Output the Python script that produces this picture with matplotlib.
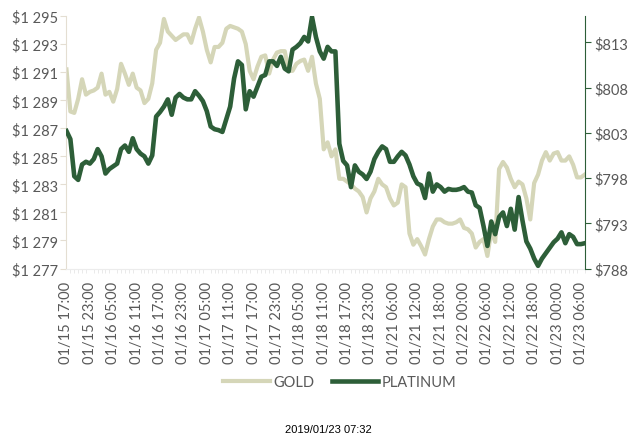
import matplotlib.pyplot as plt
import numpy as np
from matplotlib.ticker import FuncFormatter

# hourly quotes, 01/15 17:00 -> 01/23 07:00 (weekend removed)
gold = [1291.2, 1288.2, 1288.1, 1289.1, 1290.5, 1289.4, 1289.6, 1289.7, 1289.9, 1290.9,
        1289.4, 1289.6, 1288.9, 1289.8, 1291.6, 1290.9, 1290.1, 1290.9, 1289.9, 1289.7,
        1288.8, 1289.1, 1290.2, 1292.6, 1293.1, 1294.8, 1293.9, 1293.6, 1293.3, 1293.5,
        1293.7, 1293.7, 1293.1, 1294.1, 1294.9, 1293.9, 1292.6, 1291.7, 1292.8, 1292.8,
        1293.1, 1294.1, 1294.3, 1294.2, 1294.1, 1293.9, 1293.0, 1291.1, 1290.5, 1291.4,
        1292.1, 1292.2, 1290.9, 1291.9, 1292.4, 1292.5, 1292.5, 1291.1, 1291.1, 1291.6,
        1291.8, 1291.9, 1291.1, 1292.1, 1290.2, 1289.1, 1285.5, 1286.0, 1285.0, 1285.5,
        1283.4, 1283.4, 1283.2, 1283.0, 1282.7, 1282.5, 1282.1, 1281.0, 1282.0, 1282.5,
        1283.4, 1283.0, 1282.8, 1282.0, 1281.5, 1281.7, 1283.0, 1282.8, 1279.5, 1278.7,
        1279.1, 1278.6, 1278.0, 1279.1, 1280.0, 1280.5, 1280.5, 1280.3, 1280.2, 1280.2,
        1280.3, 1280.5, 1279.9, 1279.8, 1279.5, 1278.5, 1278.9, 1279.1, 1277.9, 1279.7,
        1278.9, 1284.1, 1284.6, 1284.2, 1283.4, 1282.8, 1283.2, 1283.0, 1282.0, 1280.5,
        1283.1, 1283.7, 1284.7, 1285.3, 1284.7, 1285.2, 1285.3, 1284.7, 1284.7, 1285.0,
        1284.4, 1283.5, 1283.5, 1283.7]

platinum = [803.2, 802.3, 798.2, 797.8, 799.5, 799.8, 799.6, 800.1, 801.2, 800.4,
            798.5, 799.0, 799.3, 799.6, 801.2, 801.6, 800.9, 802.4, 801.2, 800.7,
            800.4, 799.6, 800.5, 804.8, 805.3, 805.9, 806.7, 805.0, 806.9, 807.3,
            806.9, 806.7, 806.7, 807.6, 807.1, 806.5, 805.4, 803.7, 803.4, 803.3,
            803.1, 804.5, 805.9, 809.0, 810.9, 810.5, 805.6, 807.6, 807.0, 808.1,
            809.2, 809.4, 810.9, 810.9, 810.4, 811.4, 810.1, 809.8, 812.2, 812.5,
            812.9, 813.6, 813.1, 815.8, 813.6, 812.0, 811.2, 812.5, 812.0, 812.0,
            801.8, 799.9, 799.4, 797.0, 799.4, 798.7, 798.4, 797.9, 798.7, 800.1,
            800.9, 801.5, 801.2, 799.8, 799.8, 800.4, 800.9, 800.5, 799.5, 798.2,
            797.4, 797.2, 795.8, 798.5, 796.5, 797.3, 797.0, 796.5, 796.8, 796.7,
            796.7, 796.8, 797.0, 796.5, 796.4, 795.0, 794.7, 792.7, 790.5, 793.2,
            791.8, 793.7, 794.2, 792.7, 794.6, 792.3, 795.9, 793.3, 791.0, 790.2,
            789.1, 788.3, 789.1, 789.7, 790.3, 790.9, 791.3, 792.0, 790.8, 791.8,
            791.5, 790.7, 790.7, 790.8]

tick_labels = ["01/15 17:00", "01/15 23:00", "01/16 05:00", "01/16 11:00", "01/16 17:00",
               "01/16 23:00", "01/17 05:00", "01/17 11:00", "01/17 17:00", "01/17 23:00",
               "01/18 05:00", "01/18 11:00", "01/18 17:00", "01/18 23:00", "01/21 06:00",
               "01/21 12:00", "01/21 18:00", "01/22 00:00", "01/22 06:00", "01/22 12:00",
               "01/22 18:00", "01/23 00:00", "01/23 06:00"]

GOLD_C = "#d5d6b8"
PLAT_C = "#2d5e38"
TXT_C = "#595959"

plt.rcParams['font.family'] = ['Lato', 'DejaVu Sans']

fig = plt.figure(figsize=(6.35, 4.39), dpi=100)
ax = fig.add_axes([0.1047, 0.386, 0.8163, 0.575])
ax2 = ax.twinx()

x = np.arange(len(gold))
l1, = ax.plot(x, gold, color=GOLD_C, lw=3.0, label="GOLD", solid_joinstyle='round')
l2, = ax2.plot(x, platinum, color=PLAT_C, lw=3.3, label="PLATINUM", solid_joinstyle='round')

ax.set_xlim(0, len(gold) - 1)
ax.set_ylim(1277, 1295)
ax2.set_ylim(788, 815.9)
ax.set_yticks(np.arange(1277, 1296, 2))
ax2.set_yticks(np.arange(788, 814, 5))

ax.yaxis.set_major_formatter(FuncFormatter(lambda v, p: "$1 " + "%03d" % (int(round(v)) - 1000)))
ax2.yaxis.set_major_formatter(FuncFormatter(lambda v, p: "$%d" % round(v)))

ax.set_xticks(np.arange(0, len(gold), 6)[:len(tick_labels)])
ax.set_xticklabels(tick_labels, rotation=90)
ax.set_xticks(x, minor=True)

for s in ["top", "right"]:
    ax.spines[s].set_visible(False)
for s in ["top", "left", "bottom"]:
    ax2.spines[s].set_visible(False)
ax.spines["left"].set_color("#e4ded2")
ax.spines["bottom"].set_color("#ececec")
ax2.spines["right"].set_color(PLAT_C)

ax.tick_params(axis='y', colors="#e4ded2", labelcolor=TXT_C, labelsize=10.5, length=4, pad=2)
ax2.tick_params(axis='y', colors=PLAT_C, labelcolor=TXT_C, labelsize=10.5, length=4, pad=3)
ax.tick_params(axis='x', which='major', length=0, labelcolor=TXT_C, labelsize=10.5, pad=9)
ax.tick_params(axis='x', which='minor', length=3, color="#e6e6e6")

fig.legend(handles=[l1, l2], loc='center', bbox_to_anchor=(0.535, 0.127), ncol=2,
           frameon=False, fontsize=10.5, labelcolor=TXT_C, handlelength=3.2,
           handletextpad=0.2, columnspacing=1.2)

fig.text(0.517, 0.02, "2019/01/23 07:32", ha='center', va='center', fontsize=8,
         family='Liberation Sans', color='black')

fig.savefig("out.png", dpi=100)
